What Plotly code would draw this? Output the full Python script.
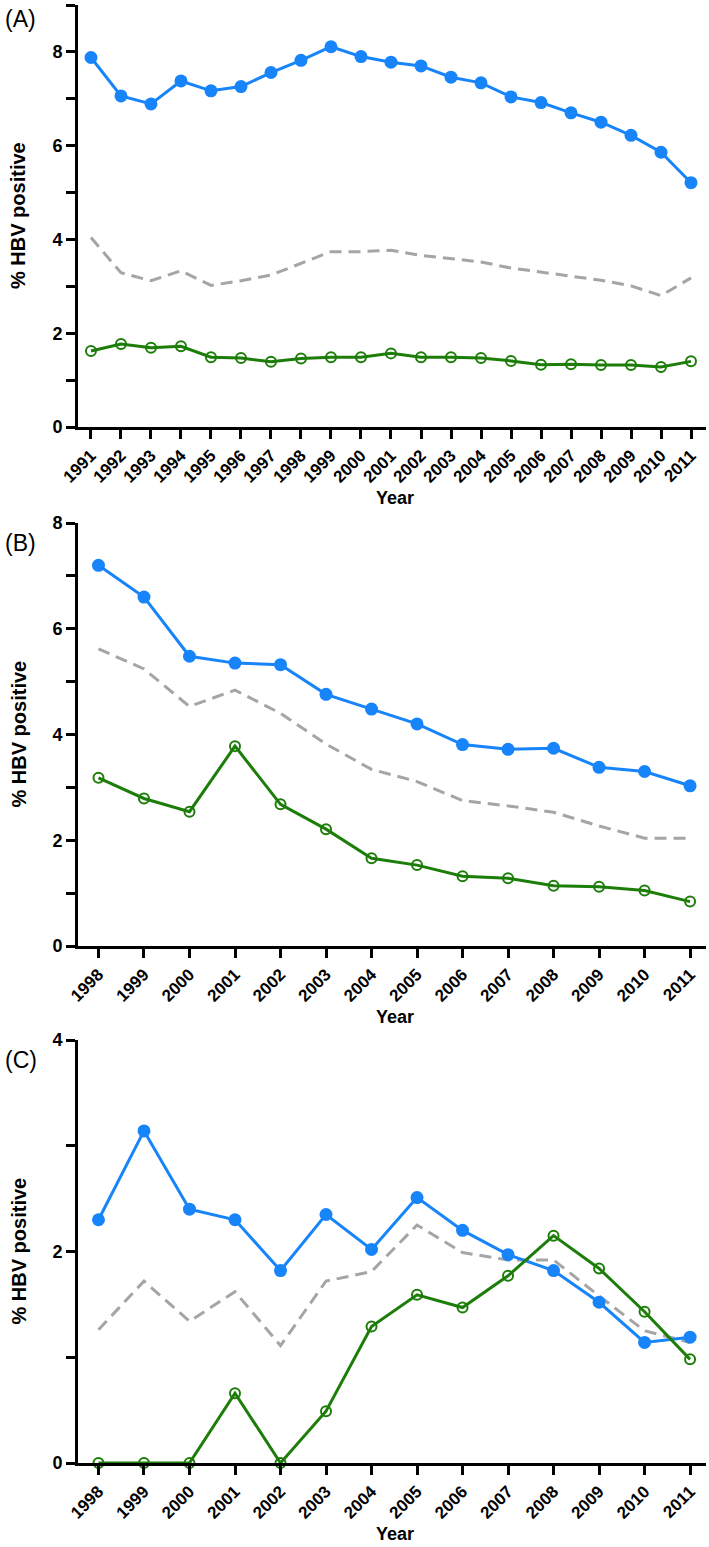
import plotly.graph_objects as go

# ---------------- data ----------------
years_a = list(range(1991, 2012))
blue_a = [7.88, 7.06, 6.89, 7.38, 7.17, 7.26, 7.56, 7.82, 8.11, 7.90, 7.78,
          7.70, 7.46, 7.34, 7.04, 6.92, 6.70, 6.50, 6.22, 5.86, 5.21]
gray_a = [4.04, 3.29, 3.12, 3.33, 3.02, 3.12, 3.24, 3.49, 3.74, 3.74, 3.77,
          3.66, 3.59, 3.52, 3.39, 3.30, 3.22, 3.13, 3.01, 2.80, 3.18]
green_a = [1.62, 1.77, 1.69, 1.72, 1.49, 1.47, 1.39, 1.46, 1.49, 1.49, 1.57,
           1.49, 1.49, 1.47, 1.41, 1.33, 1.34, 1.32, 1.32, 1.28, 1.40]

years_b = list(range(1998, 2012))
blue_b = [7.20, 6.60, 5.48, 5.35, 5.32, 4.76, 4.48, 4.20, 3.81, 3.72, 3.74, 3.38, 3.30, 3.03]
gray_b = [5.62, 5.24, 4.53, 4.84, 4.40, 3.82, 3.34, 3.11, 2.75, 2.65, 2.53, 2.27, 2.04, 2.04]
green_b = [3.18, 2.79, 2.54, 3.78, 2.68, 2.21, 1.66, 1.53, 1.32, 1.28, 1.14, 1.12, 1.05, 0.84]

years_c = list(range(1998, 2012))
blue_c = [2.30, 3.14, 2.40, 2.30, 1.82, 2.35, 2.02, 2.51, 2.20, 1.97, 1.82, 1.52, 1.14, 1.19]
gray_c = [1.26, 1.72, 1.34, 1.62, 1.11, 1.72, 1.81, 2.25, 1.99, 1.92, 1.92, 1.58, 1.25, 1.14]
green_c = [0, 0, 0, 0.66, 0, 0.49, 1.29, 1.59, 1.47, 1.77, 2.15, 1.84, 1.43, 0.98]

panel_labels = ["(A)", "(B)", "(C)"]
y_title = "% HBV positive"
x_title = "Year"

# ---------------- styles ----------------
W, H = 709, 1547
BLUE = "#1784fa"
GREEN = "#1c7d08"
GRAY = "#a5a5a5"
FONT = "Liberation Sans, Arial, sans-serif"

def py(p):
    return 1 - p / H

def px(p):
    return p / W

panels = [
    dict(years=years_a, blue=blue_a, gray=gray_a, green=green_a,
         top=5, bottom=427, xr=[1990.567, 2011.5], ymax=9, ytv=list(range(0, 10))),
    dict(years=years_b, blue=blue_b, gray=gray_b, green=green_b,
         top=523, bottom=946, xr=[1997.55, 2011.35], ymax=8, ytv=list(range(0, 9))),
    dict(years=years_c, blue=blue_c, gray=gray_c, green=green_c,
         top=1040, bottom=1463, xr=[1997.55, 2011.35], ymax=4, ytv=list(range(0, 5))),
]

fig = go.Figure()
layout = dict(width=W, height=H, margin=dict(l=0, r=0, t=0, b=0, autoexpand=False),
              plot_bgcolor="white", paper_bgcolor="white", showlegend=False,
              font=dict(family=FONT, color="black"))
annotations = []

for i, p in enumerate(panels):
    n = "" if i == 0 else str(i + 1)
    xa, ya = "x" + n, "y" + n
    fig.add_trace(go.Scatter(x=p["years"], y=p["gray"], mode="lines",
                             line=dict(color=GRAY, width=3, dash="12px,7px"),
                             xaxis=xa, yaxis=ya, cliponaxis=False))
    fig.add_trace(go.Scatter(x=p["years"], y=p["blue"], mode="lines+markers",
                             line=dict(color=BLUE, width=3),
                             marker=dict(color=BLUE, size=13, symbol="circle"),
                             xaxis=xa, yaxis=ya, cliponaxis=False))
    fig.add_trace(go.Scatter(x=p["years"], y=p["green"], mode="lines+markers",
                             line=dict(color=GREEN, width=3),
                             marker=dict(color=GREEN, size=10, symbol="circle-open",
                                         line=dict(width=2, color=GREEN)),
                             xaxis=xa, yaxis=ya, cliponaxis=False))
    ticktext = ["<b>%d</b>" % v if (v % 2 == 0 and v <= 8) else "" for v in p["ytv"]]
    layout["xaxis" + n] = dict(
        domain=[px(78), px(706)], range=p["xr"], anchor=ya, automargin=False,
        tickvals=p["years"], ticktext=["<b>%d</b>" % y for y in p["years"]],
        tickangle=-45, ticks="outside", ticklen=9, tickwidth=3, tickcolor="black",
        showline=True, linewidth=3, linecolor="black", showgrid=False, zeroline=False,
        tickfont=dict(family=FONT, size=17, color="black"),
    )
    layout["yaxis" + n] = dict(
        domain=[py(p["bottom"]), py(p["top"])], range=[0, p["ymax"]], anchor=xa,
        automargin=False,
        tickvals=p["ytv"], ticktext=ticktext,
        ticks="outside", ticklen=9, tickwidth=3, tickcolor="black",
        showline=True, linewidth=3, linecolor="black", showgrid=False, zeroline=False,
        tickfont=dict(family=FONT, size=18, color="black"),
    )
    # panel label
    annotations.append(dict(text=panel_labels[i], x=px(3), y=py(p["top"] + 14 if i == 0 else p["top"] + 20),
                            xref="paper", yref="paper", xanchor="left", yanchor="middle",
                            showarrow=False, font=dict(family=FONT, size=23, color="black")))
    # y title
    annotations.append(dict(text="<b>%s</b>" % y_title, x=px(18), y=py((p["top"] + p["bottom"]) / 2),
                            xref="paper", yref="paper", xanchor="center", yanchor="middle",
                            textangle=-90, showarrow=False,
                            font=dict(family=FONT, size=20, color="black")))
    # x title
    annotations.append(dict(text="<b>%s</b>" % x_title, x=px(395), y=py(p["bottom"] + 71),
                            xref="paper", yref="paper", xanchor="center", yanchor="middle",
                            showarrow=False,
                            font=dict(family=FONT, size=18, color="black")))

layout["annotations"] = annotations
fig.update_layout(**layout)
fig.write_html("out.html", config={"displayModeBar": False},
               post_script="document.body.style.margin='0';")
